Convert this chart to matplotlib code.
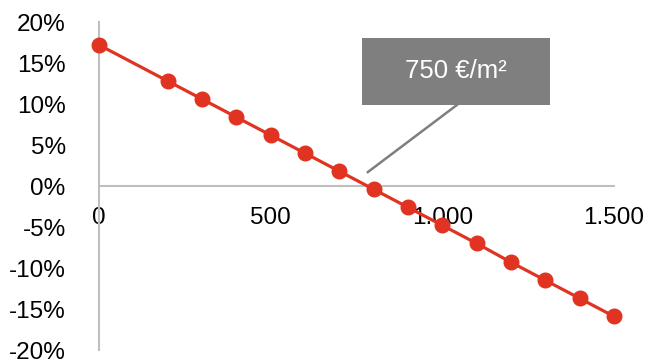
import matplotlib.pyplot as plt
from matplotlib.patches import Rectangle

# price per m2 against return
prices = [0, 200, 300, 400, 500, 600, 700, 800, 900, 1000, 1100, 1200, 1300, 1400, 1500]
returns = [17.2, 12.8, 10.6, 8.4, 6.2, 4.0, 1.8, -0.4, -2.6, -4.8, -7.0, -9.3, -11.5, -13.7, -15.9]

x_ticks = [0, 500, 1000, 1500]
x_labels = ['0', '500', '1.000', '1.500']
y_ticks = [20, 15, 10, 5, 0, -5, -10, -15, -20]
y_labels = ['20%', '15%', '10%', '5%', '0%', '-5%', '-10%', '-15%', '-20%']

callout_text = '750 €/m²'

plt.rcParams['font.family'] = ['Liberation Sans', 'DejaVu Sans']

fig = plt.figure(figsize=(6.65, 3.62), dpi=100)
ax = fig.add_axes([0.1489, 0.0331, 0.7744, 0.9061])

red = '#E03322'
ax.plot(prices, returns, color=red, lw=2.3, marker='o', ms=10.5,
	clip_on=False, zorder=3)

ax.set_xlim(0, 1500)
ax.set_ylim(-20, 20)

ax.set_xticks(x_ticks)
ax.set_xticklabels(x_labels)
ax.set_yticks(y_ticks)
ax.set_yticklabels(y_labels)
ax.tick_params(length=0, labelsize=17.5, colors='black')
ax.tick_params(axis='x', pad=15)
ax.tick_params(axis='y', pad=24)

#axis lines in light gray, horizontal axis sits at zero
for side in ['top', 'right']:
	ax.spines[side].set_visible(False)
ax.spines['bottom'].set_position(('data', 0))
ax.spines['left'].set_color('#BFBFBF')
ax.spines['bottom'].set_color('#BFBFBF')
ax.spines['left'].set_linewidth(1.5)
ax.spines['bottom'].set_linewidth(1.5)

#gray callout box with leader line
ax.add_patch(Rectangle((766, 9.9), 548, 8.1, facecolor='#7F7F7F',
	edgecolor='none', zorder=4, clip_on=False))
ax.text(1040, 14.0, callout_text, color='white', fontsize=18.5,
	ha='center', va='center', zorder=5)
ax.plot([1043, 783], [9.9, 1.7], color='#7F7F7F', lw=1.8, zorder=4)

fig.savefig('out.png', dpi=100)
